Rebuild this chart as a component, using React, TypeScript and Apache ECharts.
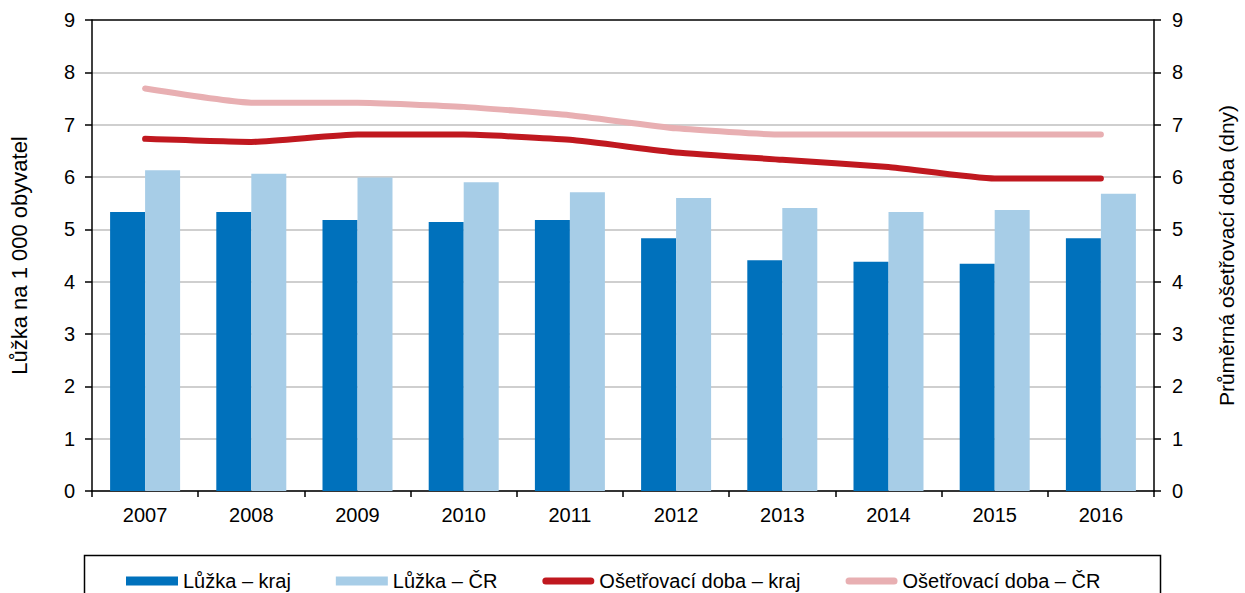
import React, { useEffect, useRef } from "react";
import * as echarts from "echarts";

const years = ["2007", "2008", "2009", "2010", "2011", "2012", "2013", "2014", "2015", "2016"];
const bedsRegion = [5.33, 5.33, 5.18, 5.14, 5.18, 4.83, 4.41, 4.38, 4.34, 4.83];
const bedsCR = [6.13, 6.06, 5.99, 5.9, 5.71, 5.6, 5.41, 5.33, 5.37, 5.68];
const stayRegion = [6.73, 6.67, 6.81, 6.81, 6.71, 6.47, 6.33, 6.19, 5.97, 5.97];
const stayCR = [7.69, 7.42, 7.42, 7.34, 7.18, 6.93, 6.81, 6.81, 6.81, 6.81];

const seriesNames = ["Lůžka – kraj", "Lůžka – ČR", "Ošetřovací doba – kraj", "Ošetřovací doba – ČR"];
const leftAxisName = "Lůžka na 1 000 obyvatel";
const rightAxisName = "Průměrná ošetřovací doba (dny)";

const FONT = "'Liberation Sans', Arial, sans-serif";
const C_DARK = "#0071BC";
const C_LIGHT = "#A7CDE7";
const C_RED = "#C0181F";
const C_PINK = "#E8AFB2";
const LINE_ICON = "path://M3.5,0 L48.5,0 A3.5,3.5 0 0 1 48.5,7 L3.5,7 A3.5,3.5 0 0 1 3.5,0 Z";

export default function App() {
  const ref = useRef<HTMLDivElement>(null);
  useEffect(() => {
    if (!ref.current) return;
    const chart = echarts.init(ref.current, null, { renderer: "svg" });
    const gridColors = ["#BFBFBF", "#BFBFBF", "#BFBFBF", "#BFBFBF", "#BFBFBF", "#BFBFBF", "#BFBFBF", "#BFBFBF", "#BFBFBF", "#000000"];
    const valueAxisCommon = {
      type: "value",
      min: 0,
      max: 9,
      interval: 1,
      nameLocation: "middle",
      nameGap: 62,
      nameTextStyle: { fontFamily: FONT, fontSize: 21, color: "#000" },
      axisLine: { show: true, lineStyle: { color: "#000", width: 1.5 } },
      axisTick: { show: true, length: 7, lineStyle: { color: "#000", width: 1.5 } },
      axisLabel: { fontFamily: FONT, fontSize: 20, color: "#000" },
    };
    chart.setOption({
      animation: false,
      backgroundColor: "#fff",
      grid: { left: 89, right: 85, top: 20, bottom: 102, containLabel: false },
      xAxis: {
        type: "category",
        data: years,
        axisLine: { lineStyle: { color: "#000", width: 1.5 } },
        axisTick: { show: true, length: 6, lineStyle: { color: "#000", width: 1.5 } },
        axisLabel: { fontFamily: FONT, fontSize: 20, color: "#000", margin: 14 },
        splitLine: { show: false },
      },
      yAxis: [
        {
          ...valueAxisCommon,
          name: leftAxisName,
          position: "left",
          nameTextStyle: { fontFamily: FONT, fontSize: 22, color: "#000" },
          axisLabel: { ...valueAxisCommon.axisLabel, margin: 17 },
          splitLine: { show: true, lineStyle: { color: gridColors, width: 1.5 } },
        },
        {
          ...valueAxisCommon,
          name: rightAxisName,
          position: "right",
          axisLabel: { ...valueAxisCommon.axisLabel, margin: 18 },
          splitLine: { show: false },
        },
      ],
      legend: {
        left: 121,
        top: 566,
        itemWidth: 52,
        itemHeight: 9,
        itemGap: 45,
        symbolKeepAspect: true,
        textStyle: { fontFamily: FONT, fontSize: 20, color: "#000" },
        data: [
          { name: seriesNames[0], icon: "rect" },
          { name: seriesNames[1], icon: "rect" },
          { name: seriesNames[2], icon: LINE_ICON },
          { name: seriesNames[3], icon: LINE_ICON },
        ],
      },
      graphic: [
        {
          type: "rect",
          shape: { x: 84.5, y: 555.5, width: 1076, height: 60 },
          style: { fill: "none", stroke: "#000", lineWidth: 1.5 },
          silent: true,
        },
      ],
      series: [
        {
          name: seriesNames[0],
          type: "bar",
          data: bedsRegion,
          barWidth: 35,
          barGap: "0%",
          itemStyle: { color: C_DARK },
        },
        {
          name: seriesNames[1],
          type: "bar",
          data: bedsCR,
          barWidth: 35,
          barGap: "0%",
          itemStyle: { color: C_LIGHT },
        },
        {
          name: seriesNames[2],
          type: "line",
          yAxisIndex: 1,
          data: stayRegion,
          symbol: "none",
          smooth: 0.15,
          lineStyle: { color: C_RED, width: 6, cap: "round", join: "round" },
          itemStyle: { color: C_RED },
          z: 3,
        },
        {
          name: seriesNames[3],
          type: "line",
          yAxisIndex: 1,
          data: stayCR,
          symbol: "none",
          smooth: 0.15,
          lineStyle: { color: C_PINK, width: 6, cap: "round", join: "round" },
          itemStyle: { color: C_PINK },
          z: 3,
        },
      ],
    });
    return () => chart.dispose();
  }, []);
  return (
    <div
      ref={ref}
      style={{ position: "fixed", left: 0, top: 0, width: 1245, height: 593, background: "#fff" }}
    />
  );
}
